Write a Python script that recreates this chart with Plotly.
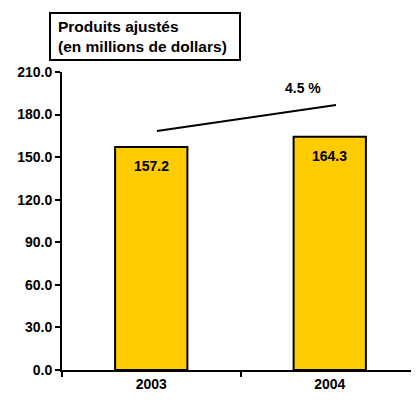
import plotly.graph_objects as go

years = ["2003", "2004"]
values = [157.2, 164.3]
bar_labels = ["157.2", "164.3"]
growth_label = "4.5 %"
title_lines = ["Produits ajustés", "(en millions de dollars)"]
yticks = [0, 30, 60, 90, 120, 150, 180, 210]

font = "Liberation Sans, Arial, sans-serif"

fig = go.Figure()
fig.add_trace(go.Bar(
    x=years, y=values, width=0.405,
    marker=dict(color="#FFCC00", line=dict(color="black", width=2)),
    showlegend=False, hoverinfo="x+y",
))

for i, (v, lab) in enumerate(zip(values, bar_labels)):
    fig.add_annotation(x=i, y=v, xref="x", yref="y", yanchor="middle", yshift=-19,
                       text="<b>%s</b>" % lab, showarrow=False,
                       font=dict(family=font, size=14, color="black"))

fig.add_shape(type="line", xref="x", yref="y", x0=0.032, y0=168.4, x1=1.035, y1=186.7,
              line=dict(color="black", width=2))
fig.add_annotation(x=0.85, y=199, xref="x", yref="y", text="<b>" + growth_label + "</b>",
                   showarrow=False, font=dict(family=font, size=14, color="black"))

fig.add_shape(type="rect", xref="paper", yref="paper", x0=-0.0336, x1=0.4986, y0=1.040, y1=1.198,
              line=dict(color="black", width=2), fillcolor="white")
fig.add_annotation(x=-0.017, y=1.119, xref="paper", yref="paper", xanchor="left", yanchor="middle",
                   text="<b>" + title_lines[0] + "</b><br><b>" + title_lines[1] + "</b>",
                   align="left", showarrow=False,
                   font=dict(family=font, size=15.5, color="black"))

fig.update_layout(
    width=411, height=392,
    margin=dict(l=54, r=0, t=64, b=30),
    plot_bgcolor="white", paper_bgcolor="white",
    font=dict(family=font, size=13, color="black"),
)
fig.update_xaxes(
    type="category",
    range=[-0.5, 1.5], showline=True, linecolor="black", linewidth=2,
    ticks="outside", tickson="boundaries", ticklen=5, tickwidth=2, tickcolor="black",
    tickfont=dict(family=font, size=14, color="black"), tickprefix="<b>", ticksuffix="</b>",
    showgrid=False, zeroline=False, fixedrange=True,
)
fig.update_yaxes(
    range=[0, 210], tickvals=yticks, ticktext=["<b>%.1f</b>" % v for v in yticks],
    showline=True, linecolor="black", linewidth=2,
    ticks="outside", ticklen=5, tickwidth=2, tickcolor="black",
    tickfont=dict(family=font, size=14, color="black"),
    showgrid=False, zeroline=False,
)

fig.write_html("out.html")
